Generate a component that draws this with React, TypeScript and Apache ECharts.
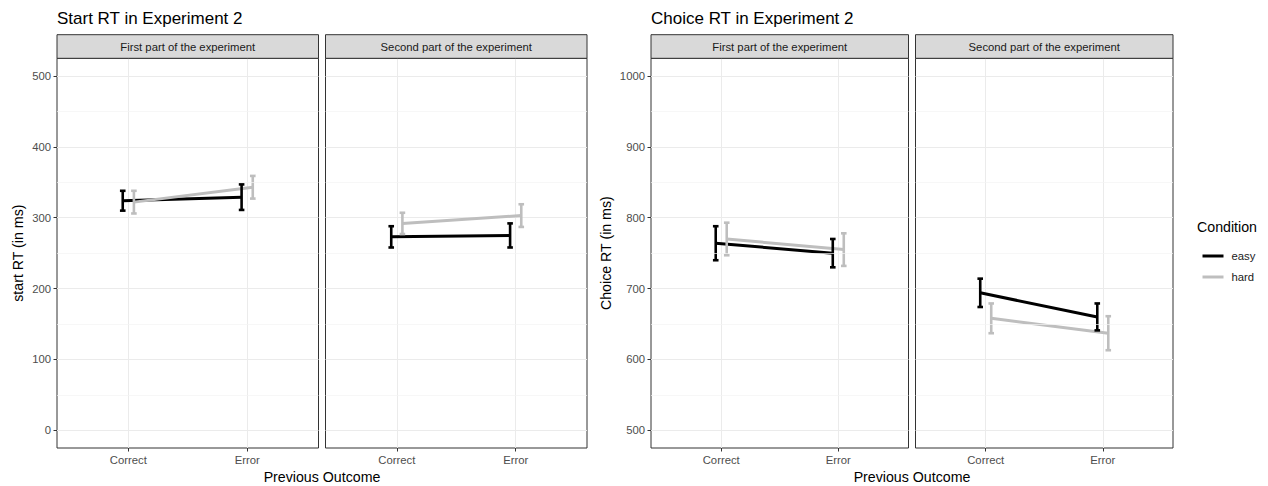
import React, { useEffect, useRef } from 'react';
import * as echarts from 'echarts';

// ---------- data ----------
const outcomes = ['Correct', 'Error'];
const conditions = ['easy', 'hard'];
const parts = ['First part of the experiment', 'Second part of the experiment'];

const startTicks = [0, 100, 200, 300, 400, 500];
const startMinor = [50, 150, 250, 350, 450];
const choiceTicks = [500, 600, 700, 800, 900, 1000];
const choiceMinor = [550, 650, 750, 850, 950];

// Start RT (ms): means and error half-widths, per previous outcome
const startFirstEasy = [324, 329];
const startFirstEasyErr = [14, 18];
const startFirstHard = [322, 343];
const startFirstHardErr = [16, 16];
const startSecondEasy = [273, 275];
const startSecondEasyErr = [15, 17];
const startSecondHard = [292, 303];
const startSecondHardErr = [15, 16];

// Choice RT (ms)
const choiceFirstEasy = [764, 750];
const choiceFirstEasyErr = [24, 20];
const choiceFirstHard = [770, 755];
const choiceFirstHardErr = [23, 23];
const choiceSecondEasy = [694, 660];
const choiceSecondEasyErr = [20, 19];
const choiceSecondHard = [658, 637];
const choiceSecondHardErr = [21, 24];

// ---------- style ----------
const FONT = "'Liberation Sans', Arial, Helvetica, sans-serif";
const EASY_COLOR = '#000000';
const HARD_COLOR = '#bebebe';
const DODGE = 0.047;
const PLOT_TOP = 58.3;
const PLOT_H = 389.7;
const STRIP_TOP = 34.7;
const STRIP_H = 23.6;

const panels = [
  { left: 57, width: 261.5, yMin: -25, yMax: 525, ticks: startTicks, minor: startMinor, showY: true, part: 0,
    easy: startFirstEasy, easyErr: startFirstEasyErr, hard: startFirstHard, hardErr: startFirstHardErr },
  { left: 325.5, width: 261.5, yMin: -25, yMax: 525, ticks: startTicks, minor: startMinor, showY: false, part: 1,
    easy: startSecondEasy, easyErr: startSecondEasyErr, hard: startSecondHard, hardErr: startSecondHardErr },
  { left: 651, width: 257.5, yMin: 475, yMax: 1025, ticks: choiceTicks, minor: choiceMinor, showY: true, part: 0,
    easy: choiceFirstEasy, easyErr: choiceFirstEasyErr, hard: choiceFirstHard, hardErr: choiceFirstHardErr },
  { left: 915.5, width: 257.5, yMin: 475, yMax: 1025, ticks: choiceTicks, minor: choiceMinor, showY: false, part: 1,
    easy: choiceSecondEasy, easyErr: choiceSecondEasyErr, hard: choiceSecondHard, hardErr: choiceSecondHardErr },
];

const renderBar = (color: string) => (params: any, api: any) => {
  const x = api.value(0);
  const lo = api.coord([x, api.value(1)]);
  const hi = api.coord([x, api.value(2)]);
  const w = 2.8;
  const style = { stroke: color, lineWidth: 2.6, fill: 'none' };
  return {
    type: 'group',
    children: [
      { type: 'line', shape: { x1: lo[0], y1: lo[1], x2: hi[0], y2: hi[1] }, style },
      { type: 'line', shape: { x1: lo[0] - w, y1: lo[1], x2: lo[0] + w, y2: lo[1] }, style },
      { type: 'line', shape: { x1: hi[0] - w, y1: hi[1], x2: hi[0] + w, y2: hi[1] }, style },
    ],
  };
};

function buildOption() {
  const grid: any[] = [];
  const xAxis: any[] = [];
  const yAxis: any[] = [];
  const series: any[] = [];
  const graphic: any[] = [];

  panels.forEach((p, i) => {
    grid.push({
      left: p.left, top: PLOT_TOP, width: p.width, height: PLOT_H,
      show: true, borderColor: '#333333', borderWidth: 1, backgroundColor: '#ffffff',
      containLabel: false,
    });
    xAxis.push({
      type: 'value', gridIndex: i, min: 0.4, max: 2.6, position: 'bottom',
      axisLine: { show: false, onZero: false },
      axisTick: { show: true, customValues: [1, 2], length: 3.5, lineStyle: { color: '#333333', width: 1 } },
      axisLabel: {
        show: true, customValues: [1, 2], margin: 6, color: '#4d4d4d', fontSize: 11.3, fontFamily: FONT,
        formatter: (v: number) => outcomes[Math.round(v) - 1] ?? '',
      },
      splitLine: { show: true, lineStyle: { color: '#ebebeb', width: 1 } },
    });
    yAxis.push({
      type: 'value', gridIndex: i, min: p.yMin, max: p.yMax, position: 'left',
      axisLine: { show: false, onZero: false },
      axisTick: { show: p.showY, customValues: p.ticks, length: 3.5, lineStyle: { color: '#333333', width: 1 } },
      axisLabel: {
        show: p.showY, customValues: p.ticks, margin: 6, color: '#4d4d4d', fontSize: 11.3, fontFamily: FONT,
        formatter: (v: number) => String(Math.round(v)),
      },
      splitLine: { show: true, lineStyle: { color: '#ebebeb', width: 1 } },
    });

    // minor grid lines
    series.push({
      type: 'line', xAxisIndex: i, yAxisIndex: i, data: [], z: 1, silent: true,
      markLine: {
        silent: true, symbol: ['none', 'none'], label: { show: false },
        lineStyle: { color: '#f3f3f3', width: 0.7, type: 'solid' },
        emphasis: { disabled: true },
        data: p.minor.map((v) => ({ yAxis: v })),
      },
    });

    const groups = [
      { name: conditions[0], mean: p.easy, err: p.easyErr, color: EASY_COLOR, off: -DODGE },
      { name: conditions[1], mean: p.hard, err: p.hardErr, color: HARD_COLOR, off: DODGE },
    ];
    groups.forEach((g) => {
      series.push({
        type: 'line', name: g.name, xAxisIndex: i, yAxisIndex: i, z: 3,
        data: outcomes.map((_, k) => [k + 1 + g.off, g.mean[k]]),
        symbol: 'none', showSymbol: false, color: g.color,
        lineStyle: { color: g.color, width: 3 },
        emphasis: { disabled: true },
      });
    });
    groups.forEach((g) => {
      series.push({
        type: 'custom', name: g.name, xAxisIndex: i, yAxisIndex: i, z: 4,
        data: outcomes.map((_, k) => [k + 1 + g.off, g.mean[k] - g.err[k], g.mean[k] + g.err[k]]),
        encode: { x: 0, y: [1, 2] },
        renderItem: renderBar(g.color),
        color: g.color,
      });
    });

    // facet strip
    graphic.push({
      type: 'rect', shape: { x: p.left, y: STRIP_TOP, width: p.width, height: STRIP_H },
      style: { fill: '#d9d9d9', stroke: '#333333', lineWidth: 1 }, z: 10,
    });
    graphic.push({
      type: 'text', x: p.left + p.width / 2, y: STRIP_TOP + STRIP_H / 2, z: 11,
      style: { text: parts[p.part], fill: '#1a1a1a', font: `11.3px ${FONT}`, textAlign: 'center', textVerticalAlign: 'middle' },
    });
  });

  const titleStyle = (text: string) => ({ text, fill: '#000000', font: `17px ${FONT}`, textAlign: 'left', textVerticalAlign: 'middle' });
  graphic.push({ type: 'text', x: 57, y: 18, style: titleStyle('Start RT in Experiment 2') });
  graphic.push({ type: 'text', x: 651, y: 18, style: titleStyle('Choice RT in Experiment 2') });

  const axisTitle = (text: string) => ({ text, fill: '#000000', font: `14.2px ${FONT}`, textAlign: 'center', textVerticalAlign: 'middle' });
  graphic.push({ type: 'text', x: 18, y: PLOT_TOP + PLOT_H / 2, rotation: Math.PI / 2, style: axisTitle('start RT (in ms)') });
  graphic.push({ type: 'text', x: 606, y: PLOT_TOP + PLOT_H / 2, rotation: Math.PI / 2, style: axisTitle('Choice RT (in ms)') });
  graphic.push({ type: 'text', x: (57 + 587) / 2, y: 477, style: axisTitle('Previous Outcome') });
  graphic.push({ type: 'text', x: (651 + 1173) / 2, y: 477, style: axisTitle('Previous Outcome') });
  graphic.push({ type: 'text', x: 1197, y: 227, style: { ...axisTitle('Condition'), textAlign: 'left' } });

  return {
    animation: false,
    backgroundColor: '#ffffff',
    grid, xAxis, yAxis, series, graphic,
    legend: {
      data: conditions, orient: 'vertical', left: 1197.5, top: 245.5,
      itemWidth: 21, itemHeight: 3, itemGap: 10, icon: 'rect',
      selectedMode: false,
      textStyle: { fontSize: 11.3, color: '#1a1a1a', fontFamily: FONT, padding: [0, 0, 0, 3] },
    },
  };
}

export default function App() {
  const ref = useRef<HTMLDivElement>(null);
  useEffect(() => {
    if (!ref.current) return;
    const chart = echarts.init(ref.current, undefined, { renderer: 'svg' });
    chart.setOption(buildOption() as any);
    return () => chart.dispose();
  }, []);
  return <div ref={ref} style={{ position: 'fixed', left: 0, top: 0, width: 1268, height: 486, background: '#fff' }} />;
}
